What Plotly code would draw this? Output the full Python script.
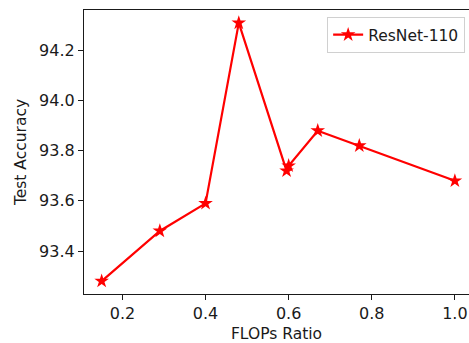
import plotly.graph_objects as go

flops_ratio = [0.15, 0.29, 0.40, 0.48, 0.595, 0.60, 0.67, 0.77, 1.00]
test_accuracy = [93.28, 93.48, 93.59, 94.31, 93.72, 93.74, 93.88, 93.82, 93.68]
series_name = "ResNet-110"
x_ticks = [0.2, 0.4, 0.6, 0.8, 1.0]
y_ticks = [93.4, 93.6, 93.8, 94.0, 94.2]

fig = go.Figure()
fig.add_trace(go.Scatter(
    x=flops_ratio, y=test_accuracy, mode="lines+markers", name=series_name,
    line=dict(color="#ff0000", width=2.2),
    marker=dict(symbol="star", size=11, color="#ff0000"),
))

font = "DejaVu Sans, sans-serif"
fig.update_layout(
    width=469, height=343,
    margin=dict(l=84, r=0, t=10, b=49),
    paper_bgcolor="white", plot_bgcolor="white",
    font=dict(family=font, size=16, color="#1a1a1a"),
    showlegend=True,
    legend=dict(x=0.99, y=0.975, xanchor="right", yanchor="top",
                bordercolor="#d0d0d0", borderwidth=1, bgcolor="rgba(255,255,255,0.8)",
                tracegroupgap=0, itemwidth=30,
                font=dict(size=15.5, color="#1a1a1a")),
    xaxis=dict(range=[0.1075, 1.034], tickvals=x_ticks, ticktext=[f"{v:.1f}" for v in x_ticks],
               automargin=False,
               showgrid=False, zeroline=False, showline=True, linecolor="#1a1a1a", linewidth=1.3,
               mirror=True, ticks="outside", ticklen=5, tickcolor="#1a1a1a", tickwidth=1.2,
               tickfont=dict(size=16),
               title=dict(text="FLOPs Ratio", font=dict(size=15.5), standoff=6)),
    yaxis=dict(range=[93.2285, 94.3615], tickvals=y_ticks, ticktext=[f"{v:.1f}" for v in y_ticks],
               automargin=False,
               showgrid=False, zeroline=False, showline=True, linecolor="#1a1a1a", linewidth=1.3,
               ticks="outside", ticklen=5, tickcolor="#1a1a1a", tickwidth=1.2,
               tickfont=dict(size=16),
               title=dict(text="Test Accuracy", font=dict(size=15.5), standoff=8)),
)
fig.write_html("out.html", config={"displayModeBar": False},
               post_script="document.body.style.margin='0';document.body.style.overflow='hidden';")
